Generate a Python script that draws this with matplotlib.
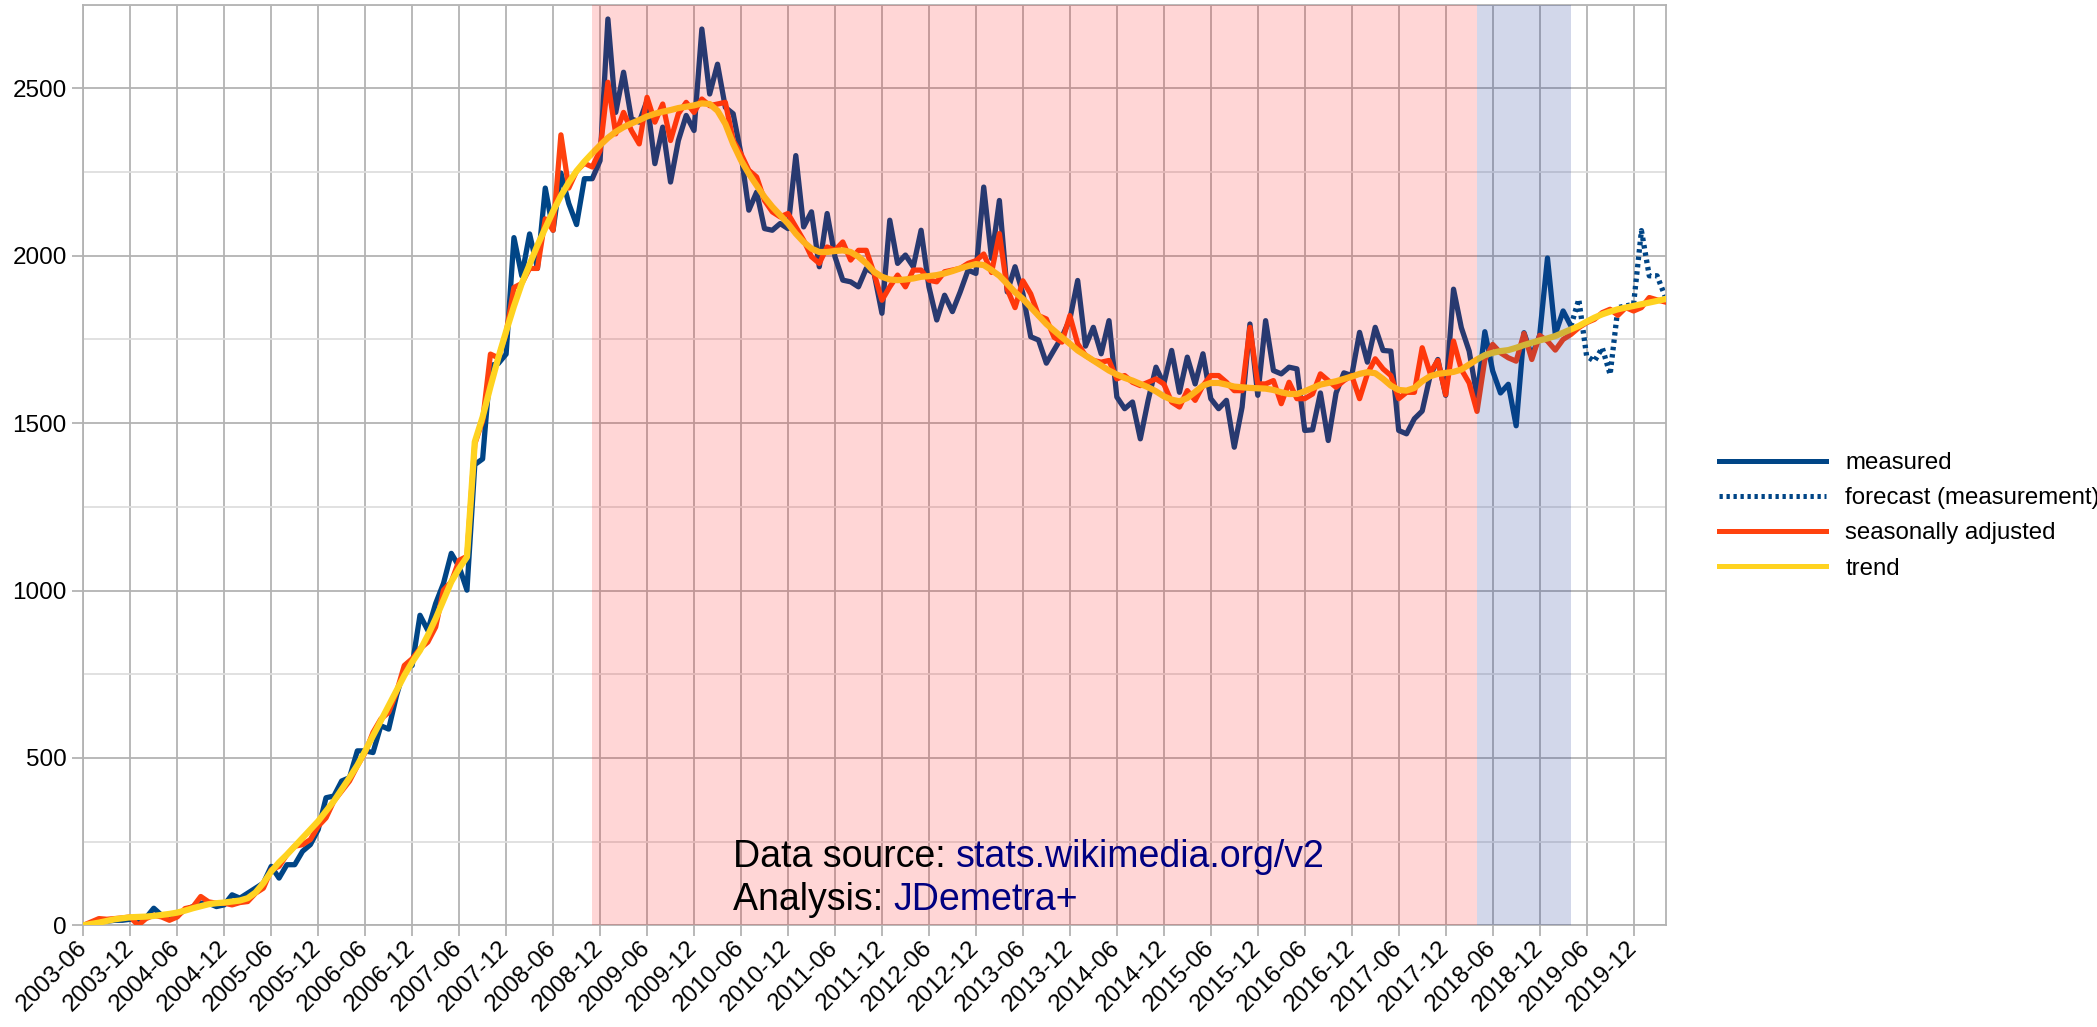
import matplotlib
matplotlib.use("Agg")
import matplotlib.pyplot as plt
from matplotlib.lines import Line2D
from matplotlib.ticker import MultipleLocator
import numpy as np

plt.rcParams['font.family'] = ['Liberation Sans', 'DejaVu Sans']

# ---------------- data (monthly, first month 2003-06) ----------------
measured = [
    0, 5, 10, 12, 15, 15, 18, 15, 22, 51,
    30, 26, 30, 46, 56, 66, 66, 56, 61, 91,
    81, 96, 111, 126, 176, 141, 181, 181, 221, 241,
    286, 381, 386, 431, 441, 521, 521, 516, 596, 586,
    686, 766, 776, 926, 881, 961, 1021, 1111, 1071, 1001,
    1376, 1393, 1672, 1678, 1706, 2054, 1940, 2065, 1962, 2202,
    2076, 2247, 2156, 2093, 2230, 2230, 2284, 2707, 2428, 2548,
    2409, 2399, 2463, 2275, 2384, 2220, 2344, 2419, 2374, 2677,
    2483, 2572, 2443, 2424, 2304, 2136, 2190, 2081, 2076, 2096,
    2081, 2299, 2086, 2131, 1967, 2126, 1997, 1927, 1922, 1907,
    1962, 1947, 1828, 2106, 1977, 2002, 1967, 2076, 1907, 1808,
    1882, 1833, 1892, 1957, 1947, 2205, 1992, 2165, 1892, 1967,
    1887, 1758, 1748, 1679, 1719, 1758, 1810, 1926, 1730, 1786,
    1707, 1806, 1578, 1543, 1563, 1453, 1568, 1667, 1617, 1717,
    1592, 1697, 1617, 1707, 1573, 1543, 1568, 1428, 1548, 1796,
    1583, 1806, 1657, 1647, 1667, 1662, 1478, 1480, 1590, 1448,
    1590, 1650, 1642, 1771, 1682, 1786, 1717, 1715, 1478, 1468,
    1513, 1536, 1640, 1690, 1583, 1900, 1785, 1715, 1580, 1773,
    1656, 1590, 1616, 1492, 1770, 1700, 1762, 1993, 1765, 1835,
    1790,
]

forecast_start = 190  # month index of 2019-04
forecast = [1790, 1870, 1700, 1685, 1725, 1645, 1845, 1850, 1855, 2075, 1940, 1940, 1880]

seasonally_adjusted = [
    0, 10, 20, 18, 20, 22, 25, 0, 20, 30,
    25, 15, 25, 50, 55, 86, 70, 66, 66, 61,
    68, 71, 96, 111, 166, 176, 211, 236, 241, 256,
    296, 321, 371, 401, 431, 476, 516, 576, 616, 636,
    696, 776, 796, 826, 846, 891, 1001, 1026, 1090, 1102,
    1438, 1507, 1706, 1695, 1769, 1905, 1917, 1962, 1962, 2110,
    2076, 2361, 2202, 2253, 2276, 2265, 2314, 2518, 2364, 2428,
    2374, 2334, 2473, 2399, 2453, 2344, 2424, 2458, 2428, 2468,
    2448, 2453, 2458, 2344, 2304, 2255, 2235, 2165, 2131, 2116,
    2126, 2086, 2046, 1997, 1977, 2026, 2016, 2041, 1987, 2016,
    2016, 1947, 1867, 1907, 1942, 1907, 1957, 1957, 1927, 1922,
    1952, 1957, 1962, 1977, 1985, 2005, 1950, 2066, 1900, 1845,
    1925, 1886, 1821, 1811, 1756, 1742, 1821, 1737, 1702, 1687,
    1682, 1687, 1632, 1642, 1622, 1612, 1622, 1632, 1617, 1563,
    1548, 1597, 1568, 1612, 1642, 1642, 1622, 1597, 1597, 1786,
    1617, 1617, 1627, 1558, 1622, 1573, 1573, 1587, 1647, 1627,
    1607, 1627, 1642, 1573, 1647, 1692, 1662, 1642, 1573, 1592,
    1592, 1725, 1650, 1687, 1585, 1745, 1660, 1620, 1535, 1690,
    1735, 1710, 1695, 1685, 1768, 1690, 1762, 1745, 1718, 1750,
    1765, 1785, 1800, 1810, 1830, 1840, 1822, 1845, 1835, 1845,
    1875, 1868, 1862,
]

trend = [
    0, 4, 8, 13, 18, 21, 24, 25, 26, 28,
    31, 34, 38, 44, 51, 57, 63, 66, 68, 71,
    74, 81, 98, 126, 161, 188, 211, 236, 261, 286,
    311, 341, 371, 406, 441, 478, 521, 566, 611, 656,
    701, 746, 786, 821, 866, 916, 971, 1026, 1066, 1100,
    1444, 1518, 1609, 1695, 1774, 1849, 1917, 1974, 2031, 2082,
    2133, 2179, 2219, 2253, 2281, 2306, 2330, 2352, 2370, 2384,
    2395, 2405, 2416, 2424, 2430, 2435, 2441, 2445, 2449, 2455,
    2453, 2433, 2394, 2334, 2285, 2245, 2210, 2175, 2146, 2121,
    2096, 2066, 2041, 2021, 2011, 2011, 2014, 2016, 2011, 1997,
    1977, 1952, 1937, 1929, 1927, 1929, 1932, 1937, 1939, 1942,
    1947, 1954, 1962, 1969, 1975, 1972, 1957, 1940, 1916, 1891,
    1871, 1846, 1821, 1796, 1776, 1756, 1737, 1717, 1702, 1687,
    1672, 1657, 1645, 1635, 1627, 1617, 1607, 1595, 1580, 1570,
    1565, 1575, 1593, 1612, 1620, 1620, 1615, 1609, 1607, 1605,
    1604, 1603, 1599, 1592, 1587, 1587, 1595, 1605, 1615, 1620,
    1625, 1632, 1639, 1647, 1652, 1649, 1632, 1612, 1599, 1597,
    1605, 1625, 1640, 1647, 1650, 1653, 1660, 1675, 1690, 1703,
    1710, 1715, 1718, 1725, 1733, 1740, 1747, 1753, 1760, 1770,
    1780, 1790, 1803, 1815, 1825, 1833, 1840, 1845, 1850, 1855,
    1860, 1865, 1870,
]

tick_labels = [
    "2003-06", "2003-12", "2004-06", "2004-12", "2005-06", "2005-12",
    "2006-06", "2006-12", "2007-06", "2007-12", "2008-06", "2008-12",
    "2009-06", "2009-12", "2010-06", "2010-12", "2011-06", "2011-12",
    "2012-06", "2012-12", "2013-06", "2013-12", "2014-06", "2014-12",
    "2015-06", "2015-12", "2016-06", "2016-12", "2017-06", "2017-12",
    "2018-06", "2018-12", "2019-06", "2019-12",
]

series_labels = ["measured", "forecast (measurement)", "seasonally adjusted", "trend"]

# shaded periods (month indices)
pink_span = (65, 178)
blue_span = (178, 190)

# ---------------- figure ----------------
W, H = 2097, 1027
fig = plt.figure(figsize=(W / 100, H / 100), dpi=100)
ax = fig.add_axes([83.3 / W, 1 - 925.3 / H, (1665.7 - 83.3) / W, (925.3 - 4.6) / H])

c_meas = '#004586'
c_sa = '#ff420e'
c_trend = '#ffd320'
lw_main = 3.8

x_meas = np.arange(len(measured))
x_fc = np.arange(forecast_start, forecast_start + len(forecast))
x_all = np.arange(len(trend))

ax.plot(x_meas, measured, color=c_meas, lw=lw_main, zorder=2)
ax.plot(x_fc, forecast, color=c_meas, lw=lw_main, linestyle=(0, (0.66, 0.74)),
        dash_capstyle='butt', zorder=2)
ax.plot(x_all, seasonally_adjusted, color=c_sa, lw=lw_main, zorder=3)
ax.plot(x_all, trend, color=c_trend, lw=4.5, zorder=4)

ax.axvspan(*pink_span, color=(1.0, 0.0, 0.0), alpha=0.16, lw=0, zorder=5)
ax.axvspan(*blue_span, color=(0.118, 0.216, 0.588), alpha=0.2, lw=0, zorder=5)

ax.set_xlim(0, 202.1)
ax.set_ylim(0, 2750)

ax.set_xticks(np.arange(0, 6 * len(tick_labels), 6))
ax.set_xticklabels(tick_labels, rotation=45, ha='right', va='center',
                   rotation_mode='anchor')
ax.set_yticks(np.arange(0, 2501, 500))
ax.yaxis.set_minor_locator(MultipleLocator(250))

grid_c = '#b3b3b3'
ax.set_axisbelow(True)
ax.grid(which='major', color=grid_c, lw=1.3)
ax.grid(axis='y', which='minor', color='#dedede', lw=1.3)
ax.tick_params(axis='both', which='major', length=8, width=1.3, color=grid_c,
               labelsize=17.5, labelcolor='black')
ax.tick_params(axis='x', pad=6)
ax.tick_params(axis='y', pad=4)
ax.tick_params(axis='y', which='minor', length=0)
for s in ax.spines.values():
    s.set_color(grid_c)
    s.set_linewidth(1.3)

# legend
handles = [
    Line2D([], [], color=c_meas, lw=3.6),
    Line2D([], [], color=c_meas, lw=3.6, linestyle=(0, (0.66, 0.74)), dash_capstyle='butt'),
    Line2D([], [], color=c_sa, lw=3.6),
    Line2D([], [], color=c_trend, lw=3.6),
]
fig.legend(handles, series_labels, loc='upper left',
           bbox_to_anchor=(1719 / W, 1 - 452 / H), frameon=False, fontsize=17.3,
           handlelength=4.45, handletextpad=0.8, labelspacing=0.55,
           borderpad=0, borderaxespad=0)

# annotation
t1 = fig.text(733 / W, 1 - 857 / H, "Data source: ", fontsize=27, va='center',
              ha='left', color='black', zorder=10)
ax.annotate("stats.wikimedia.org/v2", xy=(1, 0), xycoords=t1, va='bottom',
            ha='left', fontsize=27, color='#000080', annotation_clip=False,
            zorder=10)
t2 = fig.text(733 / W, 1 - 900 / H, "Analysis: ", fontsize=27, va='center',
              ha='left', color='black', zorder=10)
ax.annotate("JDemetra+", xy=(1, 0), xycoords=t2, va='bottom', ha='left',
            fontsize=27, color='#000080', annotation_clip=False, zorder=10)

fig.savefig("out.png", dpi=100)
